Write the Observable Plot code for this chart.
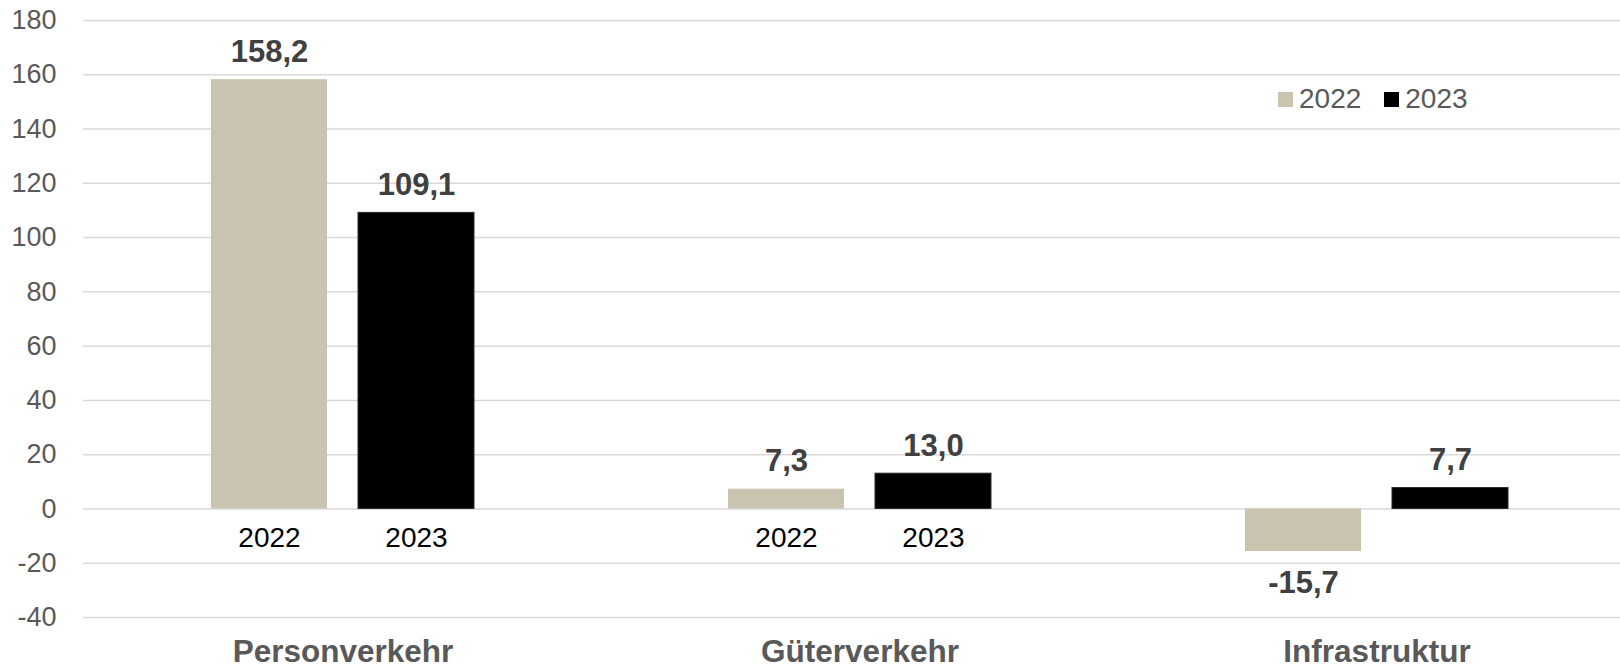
<!DOCTYPE html>
<html>
<head>
<meta charset="utf-8">
<script src="https://cdn.jsdelivr.net/npm/d3@7"></script>
<script src="https://cdn.jsdelivr.net/npm/@observablehq/plot@0.6"></script>
<style>
  html, body { margin: 0; padding: 0; background: #fff; overflow: hidden; }
  #wrap { position: relative; width: 1620px; height: 668px; font-family: "Liberation Sans", Arial, sans-serif; }
  #legend { position: absolute; left: 1278px; top: 84.5px; display: flex; align-items: center; font-size: 28px; line-height: 28px; color: #595959; }
  #legend .item { display: flex; align-items: center; margin-right: 23px; }
  #legend .sw { width: 15px; height: 15px; margin-right: 6px; margin-top: 1px; }
</style>
</head>
<body>
<div id="wrap"></div>
<script>
const categories = ["Personverkehr", "Güterverkehr", "Infrastruktur"];
const years = ["2022", "2023"];
const values2022 = [158.2, 7.3, -15.7];
const values2023 = [109.1, 13.0, 7.7];
const yTicks = [-40, -20, 0, 20, 40, 60, 80, 100, 120, 140, 160, 180];
const yearLabelCategories = ["Personverkehr", "Güterverkehr"];
const colors = ["#c9c4af", "#000000"];

const fmt = v => v.toFixed(1).replace(".", ",");
const rows = [];
categories.forEach((c, i) => {
  rows.push({cat: c, year: years[0], value: values2022[i]});
  rows.push({cat: c, year: years[1], value: values2023[i]});
});
const r22 = rows.filter(d => d.year === years[0]);
const r23 = rows.filter(d => d.year === years[1]);
const yearRows = rows.filter(d => yearLabelCategories.includes(d.cat));

const font = "Liberation Sans, Arial, sans-serif";
const off = 73.5;

const valueLabel = (data, dx) => [
  Plot.text(data.filter(d => d.value >= 0), {
    x: "cat", y: "value", text: d => fmt(d.value), dx, dy: -18, lineAnchor: "bottom",
    fontSize: 31, fontWeight: "bold", fill: "#404040", fontFamily: font
  }),
  Plot.text(data.filter(d => d.value < 0), {
    x: "cat", y: "value", text: d => fmt(d.value), dx, dy: 41, lineAnchor: "bottom",
    fontSize: 31, fontWeight: "bold", fill: "#404040", fontFamily: font
  })
];

const chart = Plot.plot({
  width: 1620,
  height: 668,
  marginTop: 20,
  marginBottom: 51,
  marginLeft: 83,
  marginRight: 0,
  style: {fontFamily: font, color: "#595959", background: "#fff"},
  x: {domain: categories, range: [83, 1635], paddingInner: 0.4918, paddingOuter: 0.2459, axis: null},
  y: {domain: [-40, 180], axis: null},
  marks: [
    Plot.ruleY(yTicks, {stroke: "#d9d9d9", strokeWidth: 1.5}),
    Plot.axisY({ticks: yTicks, tickSize: 0, tickPadding: 27, fontSize: 27, tickFormat: d => String(d), fill: "#595959", label: null}),
    Plot.barY(r22, {x: "cat", y: "value", fill: colors[0], insetRight: 147}),
    Plot.barY(r23, {x: "cat", y: "value", fill: colors[1], insetLeft: 147, stroke: "#2a2a2a", strokeWidth: 1}),
    ...valueLabel(r22, -off),
    ...valueLabel(r23, off),
    Plot.text(yearRows.filter(d => d.year === years[0]), {
      x: "cat", y: () => 0, text: "year", dx: -off, dy: 38, lineAnchor: "bottom",
      fontSize: 28, fill: "#000", fontFamily: font
    }),
    Plot.text(yearRows.filter(d => d.year === years[1]), {
      x: "cat", y: () => 0, text: "year", dx: off, dy: 38, lineAnchor: "bottom",
      fontSize: 28, fill: "#000", fontFamily: font
    }),
    Plot.text(categories, {
      x: d => d, text: d => d, frameAnchor: "bottom", dy: 44, lineAnchor: "bottom",
      fontSize: 31.5, fontWeight: "bold", fill: "#595959", fontFamily: font
    })
  ]
});

const wrap = document.getElementById("wrap");
wrap.appendChild(chart);

const legend = document.createElement("div");
legend.id = "legend";
years.forEach((y, i) => {
  const item = document.createElement("div");
  item.className = "item";
  const sw = document.createElement("div");
  sw.className = "sw";
  sw.style.background = colors[i];
  const t = document.createElement("span");
  t.textContent = y;
  item.appendChild(sw);
  item.appendChild(t);
  legend.appendChild(item);
});
wrap.appendChild(legend);
</script>
</body>
</html>
